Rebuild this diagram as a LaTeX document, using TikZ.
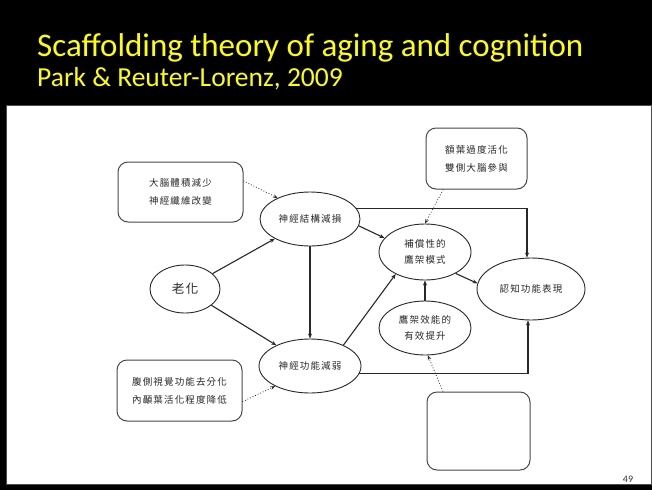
\documentclass[tikz,border=0pt]{standalone}
\usepackage{fontspec}
\newfontfamily\slidefont{Carlito}
\newfontfamily\cjk[LetterSpace=12]{Noto Sans CJK TC}
\usetikzlibrary{shapes.geometric,arrows.meta}
\definecolor{slideyellow}{RGB}{255,255,0}
\definecolor{ink}{RGB}{40,40,40}

\begin{document}
\begin{tikzpicture}[x=1pt,y=-1pt,
  bubble/.style={ellipse,draw=ink,line width=0.9pt,inner sep=0pt,text=ink,
    font=\cjk\fontsize{9.5}{16}\selectfont,align=center},
  note/.style={rectangle,rounded corners=10pt,draw=ink!85,line width=1pt,inner sep=0pt,
    text=ink,font=\cjk\fontsize{9.5}{18}\selectfont,align=center},
  arr/.style={draw=ink,line width=1.1pt,-{Stealth[length=5pt,width=4pt]}},
  dotarr/.style={draw=ink,line width=0.8pt,dotted,-{Stealth[length=4.5pt,width=3.5pt]}}]

  % slide frame
  \useasboundingbox (0,0) rectangle (652,490);
  \fill[black] (0,0) rectangle (652,490);
  \filldraw[fill=white,draw=black!70,line width=0.8pt] (6,105) rectangle (651,484);

  \node[anchor=base west,inner sep=0pt,text=slideyellow,font=\slidefont\fontsize{33}{33}\selectfont]
    (title) at (37,56) {Scaffolding theory of aging and cognition};
  \node[anchor=base west,inner sep=0pt,text=slideyellow,font=\slidefont\fontsize{27.5}{28}\selectfont]
    (cite) at (37,86) {Park \& Reuter-Lorenz, 2009};
  \node[text=black!80,font=\slidefont\fontsize{10}{10}\selectfont] (page) at (628,479) {49};

  % ellipses
  \node[bubble,minimum width=70,minimum height=48,font=\cjk\fontsize{12.5}{14}\selectfont]
    (aging) at (185,289) {老化};
  \node[bubble,minimum width=100,minimum height=54] (struct) at (310,219) {神經結構減損};
  \node[bubble,minimum width=102,minimum height=54] (func) at (310,366) {神經功能減弱};
  \node[bubble,minimum width=92,minimum height=56] (comp) at (425,252) {補償性的\\鷹架模式};
  \node[bubble,minimum width=92,minimum height=54] (boost) at (425,328) {鷹架效能的\\有效提升};
  \node[bubble,minimum width=108,minimum height=62] (perf) at (531,289) {認知功能表現};

  % boxes
  \node[note,minimum width=125,minimum height=60] (volume) at (180.5,192) {大腦體積減少\\神經纖維改變};
  \node[note,minimum width=101,minimum height=61] (frontal) at (476.5,158.5) {額葉過度活化\\雙側大腦參與};
  \node[note,minimum width=125,minimum height=61] (ventral) at (179.5,390.5) {腹側視覺功能去分化\\內顳葉活化程度降低};
  \node[note,minimum width=103,minimum height=78] (blank) at (478.5,431) {};

  % solid paths
  \draw[arr] (aging) -- (struct);
  \draw[arr] (aging) -- (func);
  \draw[arr] (struct.south) -- (func.north);
  \draw[arr] (struct.13) -| ([xshift=-4]perf.north);
  \draw[arr] (struct.-8) -- (comp.161);
  \draw[arr] (func.32) -- (comp.217);
  \draw[arr] (boost.north) -- (comp.south);
  \draw[arr] (comp.-35) -- (perf.174);
  \draw[arr] (func.-9) -| ([xshift=-3]perf.south);

  % dotted influences
  \draw[dotarr] (volume.10) -- (struct.147);
  \draw[dotarr] (frontal.223) -- (comp.north);
  \draw[dotarr] (ventral.-10) -- (func.210);
  \draw[dotarr] (blank.132) -- (boost.-84);
\end{tikzpicture}
\end{document}
